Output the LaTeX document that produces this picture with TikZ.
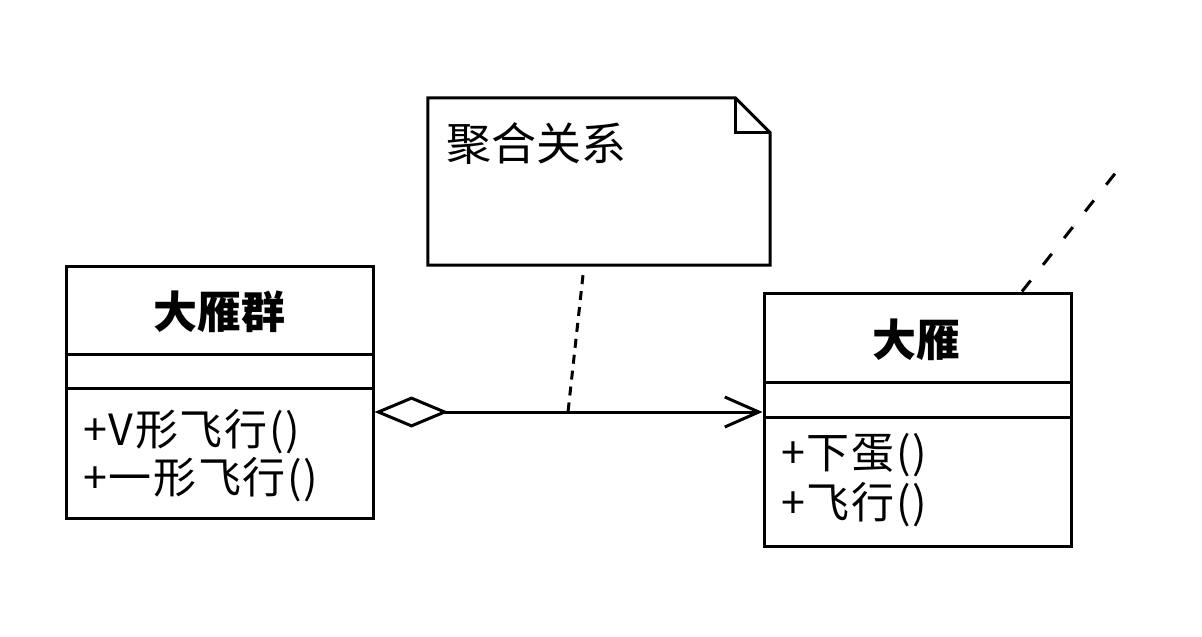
\documentclass[tikz,border=0pt]{standalone}
\usepackage{fontspec}
\setmainfont{Noto Sans CJK SC}
\newfontfamily\methfont[LetterSpace=4]{Noto Sans CJK SC}
\usetikzlibrary{arrows.meta}
\tikzset{
  ln/.style={line width=3pt, black},
  classbox/.style={draw, line width=3pt, minimum width=307pt, inner sep=0pt},
  title/.style={font=\fontsize{44pt}{48pt}\selectfont\bfseries, inner sep=0pt},
  meth/.style={font=\methfont\fontsize{43pt}{48pt}\selectfont, inner sep=0pt, anchor=west},
  notetxt/.style={font=\fontsize{45pt}{48pt}\selectfont, inner sep=0pt, anchor=west},
  dashln/.style={line width=3pt, dash pattern=on 9pt off 7pt},
  dashln2/.style={line width=3pt, dash pattern=on 14pt off 20pt},
}
\begin{document}
\begin{tikzpicture}[x=1pt, y=-1pt]
\useasboundingbox (0,0) rectangle (1202,637);
\fill[white] (0,0) rectangle (1202,637);

% left class
\node[classbox, minimum height=252pt] (grp) at (219.5,392) {};
\draw[ln] (grp.west |- 0,354) -- (grp.east |- 0,354);
\draw[ln] (grp.west |- 0,388) -- (grp.east |- 0,388);
\node[title] (grpt) at (219.5,312) {大雁群};
\node[meth] (grpm1) at (83,432) {+V形飞行()};
\node[meth] (grpm2) at (83,480) {+一形飞行()};

% right class
\node[classbox, minimum height=253pt] (yan) at (917.5,419.5) {};
\draw[ln] (yan.west |- 0,382) -- (yan.east |- 0,382);
\draw[ln] (yan.west |- 0,417) -- (yan.east |- 0,417);
\node[title] (yant) at (916,340) {大雁};
\node[meth] (yanm1) at (781,455) {+下蛋()};
\node[meth] (yanm2) at (781,505) {+飞行()};

% note
\node[minimum width=342pt, minimum height=167pt, inner sep=0pt] (note) at (599,181.5) {};
\draw[ln, line join=miter] (note.north west) -- ([xshift=-35pt]note.north east)
  -- ([yshift=-35pt]note.north east) -- (note.south east) -- (note.south west) -- cycle;
\draw[ln, line join=miter] ([xshift=-35pt]note.north east) |- ([yshift=-35pt]note.north east);
\node[notetxt] (notet) at (446,144) {聚合关系};

% aggregation connector
\draw[ln, {Diamond[open, length=74pt, width=31pt]}-{Straight Barb[length=34pt, width=30pt]}]
  ([yshift=-20pt]grp.east) -- ([yshift=7.5pt]yan.west);
\coordinate (att) at (568,412);
\draw[dashln] ([xshift=-16pt, yshift=-10pt]note.south) -- (att);

% partial dashed line at top right
\coordinate (off) at (1117,171);
\draw[dashln2] ([xshift=104.5pt]yan.north) -- (off);
\end{tikzpicture}
\end{document}
